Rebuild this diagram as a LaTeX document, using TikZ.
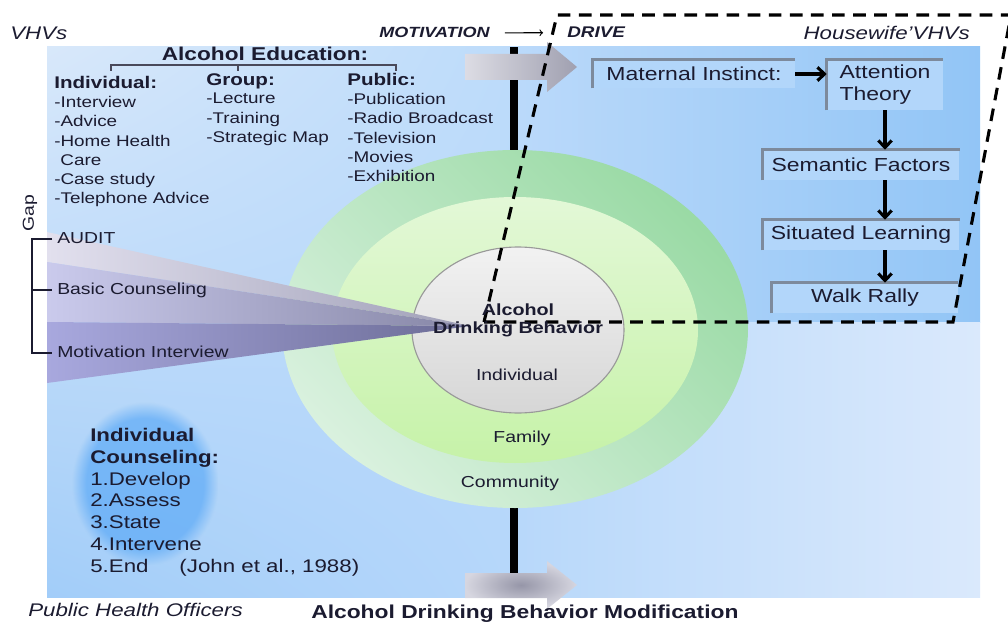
\documentclass[tikz,border=0pt]{standalone}
\usepackage{fontspec}
\setmainfont[FakeStretch=1.22]{Liberation Sans}
\usepackage{tikz}
\usetikzlibrary{arrows,arrows.meta,positioning,fadings,shadings}

\definecolor{ink}{HTML}{1B1B30}
\definecolor{boxfill}{HTML}{B2D6FA}
\definecolor{bevelgray}{HTML}{7D8A9C}
\definecolor{glowblue}{HTML}{4FA3F6}
\definecolor{bgul}{HTML}{D8E8FA}
\definecolor{bgur}{HTML}{BCDBFA}
\definecolor{bgll}{HTML}{A2CDF9}
\definecolor{bglr}{HTML}{B6D7FA}
\definecolor{trl}{HTML}{BAD9FA}
\definecolor{trr}{HTML}{92C5F6}
\definecolor{brl}{HTML}{B8D8FA}
\definecolor{brr}{HTML}{DAE9FC}
\definecolor{outtop}{HTML}{9ADAA5}
\definecolor{outbot}{HTML}{D9F1DE}
\definecolor{midtop}{HTML}{E3F8D7}
\definecolor{midbot}{HTML}{C6F2A8}
\definecolor{inntop}{HTML}{F2F2F2}
\definecolor{innbot}{HTML}{D6D6D6}
\definecolor{wal}{HTML}{E2E0EE}
\definecolor{war}{HTML}{A0A0B8}
\definecolor{wbl}{HTML}{CACAEC}
\definecolor{wbr}{HTML}{8686A6}
\definecolor{wcl}{HTML}{A8A8DE}
\definecolor{wcr}{HTML}{6C6C96}
\definecolor{arl}{HTML}{DCDCE4}
\definecolor{arr}{HTML}{A0A0B0}
\definecolor{arin}{HTML}{9696A8}
\definecolor{arout}{HTML}{D6D6E0}

\tikzset{
  item/.style={anchor=north west,align=left,font=\fontsize{11}{13.7}\selectfont},
  head/.style={anchor=base west,font=\fontsize{12}{14}\selectfont\bfseries},
  side/.style={anchor=base west,font=\fontsize{11.3}{13}\selectfont},
  ringtext/.style={font=\fontsize{11.3}{13}\selectfont},
  stepbox/.style={fill=boxfill,font=\fontsize{13.4}{15.6}\selectfont},
  bevel/.style={draw=bevelgray,line width=2pt},
  flow/.style={-{Straight Barb[length=5pt,width=9.5pt]},line width=2.2pt},
  cornerline/.style={dash pattern=on 9pt off 6pt,line width=2.2pt}
}

\begin{document}
\begin{tikzpicture}[x=0.025cm,y=-0.025cm,every node/.style={inner sep=0pt,text=ink}]
\useasboundingbox (0,0) rectangle (1008,624);

% background
\shade[upper left=bgul,upper right=bgur,lower left=bgll,lower right=bglr] (47,47) rectangle (520,597);
\shade[left color=trl,right color=trr] (520,47) rectangle (980,322);
\shade[left color=brl,right color=brr] (520,322) rectangle (980,597);
\fill[glowblue,opacity=0.6,path fading=circle with fuzzy edge 20 percent] (72,402) rectangle (218,565);

% axis bar
\fill[black] (510,47) rectangle (518,597);

% rings
\shade[top color=outtop,bottom color=outbot,shading angle=-45] (515,329) ellipse [x radius=233,y radius=179];
\shade[top color=midtop,bottom color=midbot] (515,330) ellipse [x radius=183,y radius=133];
\shade[top color=inntop,bottom color=innbot,draw=gray!80,line width=0.8pt] (518,330) ellipse [x radius=106,y radius=83];

% gap wedges
\shade[left color=wal,right color=war] (47,232) -- (470,326) -- (47,262) -- cycle;
\shade[left color=wbl,right color=wbr] (47,262) -- (470,326) -- (47,322) -- cycle;
\shade[left color=wcl,right color=wcr] (47,322) -- (470,326) -- (47,383) -- cycle;

% gray arrows
\shade[left color=arl,right color=arr]
  (465,54) -- (547,54) -- (547,42) -- (577,67) -- (547,92) -- (547,80) -- (465,80) -- cycle;
\shade[inner color=arin,outer color=arout]
  (465,573) -- (547,573) -- (547,561) -- (577,585) -- (547,609) -- (547,598) -- (465,598) -- cycle;

% drive chain
\node[stepbox,minimum width=143.7pt,minimum height=20pt] (mat) at (694,74) {Maternal Instinct:};
\node[stepbox,minimum width=82.5pt,minimum height=35.6pt,align=left] (att) at (885,85) {Attention\\Theory};
\node[stepbox,minimum width=140pt,minimum height=21.3pt] (sem) at (861,165) {Semantic Factors};
\node[stepbox,minimum width=140pt,minimum height=21.3pt] (sit) at (861,235) {Situated Learning};
\node[stepbox,minimum width=132.3pt,minimum height=21.3pt] (wlk) at (865,298) {Walk Rally};
\foreach \b in {mat,att,sem,sit,wlk}
  \draw[bevel] (\b.south west) -- (\b.north west) -- (\b.north east);
\draw[flow] (mat.east) -- (mat.east -| att.west);
\draw[flow] (att.south) -- (att.south |- sem.north);
\draw[flow] (sem.south -| att.south) -- (sit.north -| att.south);
\draw[flow] (sit.south -| att.south) -- (wlk.north -| att.south);

% housewife corner
\draw[cornerline] (484,322) -- (557,15) -- (1011,15) -- (953,322) -- cycle;

% education
\node[anchor=base,font=\fontsize{13.2}{15}\selectfont\bfseries] (edu) at (265,61) {Alcohol Education:};
\draw[line width=1.1pt,ink!80] (111,71) -- (111,65) -- (396,65) -- (396,71) (238,65) -- (238,71);
\node[head] (indh) at (54,89) {Individual:};
\node[head] (grph) at (206,86) {Group:};
\node[head] (pubh) at (347,86) {Public:};
\node[item] (indl) at (54,96) {-Interview\\-Advice\\-Home Health\\\hspace*{0.4em}Care\\-Case study\\-Telephone Advice};
\node[item] (grpl) at (206,93) {-Lecture\\-Training\\-Strategic Map};
\node[item] (publ) at (347,93) {-Publication\\-Radio Broadcast\\-Television\\-Movies\\-Exhibition};

% gap
\node[rotate=90,font=\fontsize{11.3}{13}\selectfont] (gap) at (30,213) {Gap};
\draw[line width=1pt,ink] (52,239) -- (32,239) -- (32,353) -- (52,353) (32,290) -- (52,290);
\node[side] (aud) at (57,243) {AUDIT};
\node[side] (bas) at (57,294) {Basic Counseling};
\node[side] (mot) at (57,357) {Motivation Interview};

% rings text
\node[align=center,font=\fontsize{11.5}{12.8}\selectfont\bfseries] (adb) at (518,320) {Alcohol\\Drinking Behavior};
\node[ringtext] (rind) at (517,375) {Individual};
\node[ringtext] (rfam) at (522,438) {Family};
\node[ringtext] (rcom) at (510,483) {Community};

% counseling
\node[anchor=north west,align=left,font=\fontsize{13}{15.5}\selectfont] (cns) at (90,428)
  {\textbf{Individual}\\\textbf{Counseling:}\\1.Develop\\2.Assess\\3.State\\4.Intervene\\5.End\hspace{22pt}(John et al., 1988)};

% outer labels
\node[anchor=base west,font=\fontsize{13}{15}\selectfont\itshape] (vhv) at (10,40) {VHVs};
\node[anchor=base east,font=\fontsize{10.5}{12}\selectfont\bfseries\itshape] (mtv) at (490,38) {MOTIVATION};
\node[anchor=base west,font=\fontsize{11}{12}\selectfont\bfseries\itshape] (drv) at (567,38) {DRIVE};
\draw[->,>=to,line width=0.8pt,shorten <=10.5pt,shorten >=17pt] (mtv.east) -- (drv.west);
\node[anchor=base east,font=\fontsize{13}{15}\selectfont\itshape] (hvh) at (970,40) {Housewife'VHVs};
\node[anchor=base west,font=\fontsize{13}{15}\selectfont\itshape] (pho) at (28,616) {Public Health Officers};
\node[anchor=base west,font=\fontsize{13.3}{15}\selectfont\bfseries] (mod) at (311,618) {Alcohol Drinking Behavior Modification};
\end{tikzpicture}
\end{document}
